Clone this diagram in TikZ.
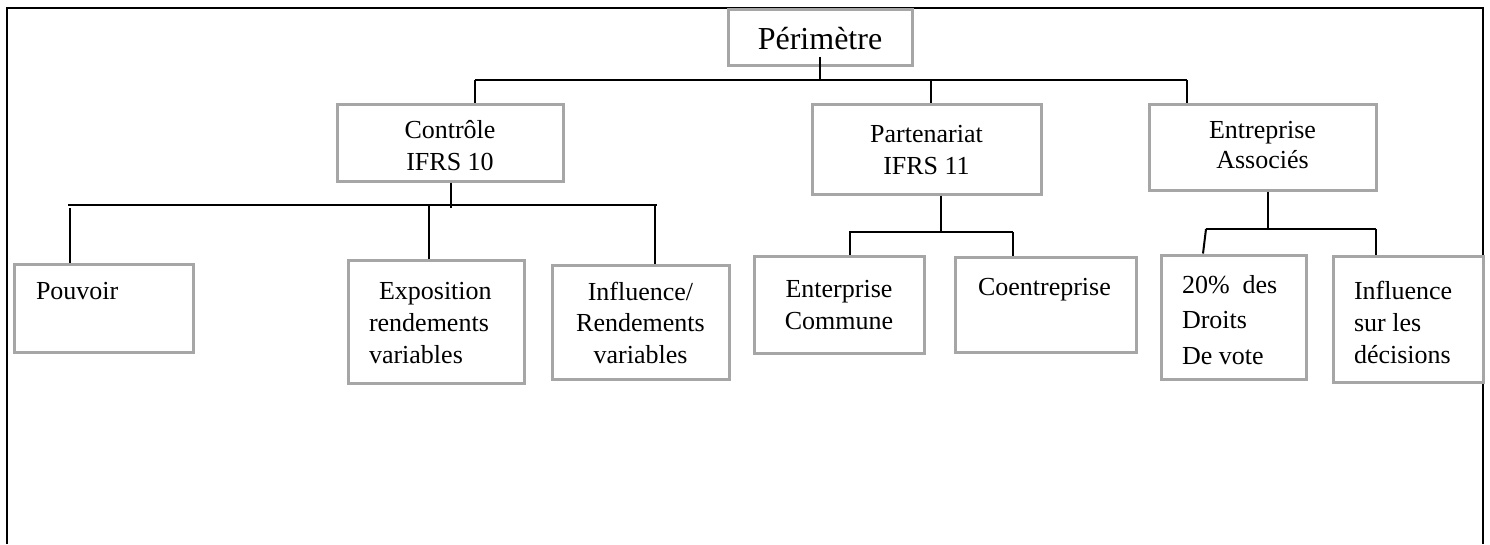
\documentclass[tikz,border=0pt]{standalone}
\usepackage{fontspec}
\setmainfont{Liberation Serif}
\definecolor{boxgray}{RGB}{166,166,166}
\newcommand{\ctext}[3]{\parbox[t]{260pt}{\centering\fontsize{#1}{#2}\selectfont #3}}
\newcommand{\ltext}[2]{\parbox[t]{200pt}{\raggedright\fontsize{26}{#1}\selectfont #2}}
\begin{document}
\begin{tikzpicture}[x=1pt,y=-1pt,
  box/.style={draw=boxgray, fill=white, line width=3pt, inner sep=0pt, rectangle},
  txt/.style={inner sep=0pt, outer sep=0pt},
  conn/.style={draw=black, line width=2pt},
  frame/.style={draw=black, line width=2.2pt}]
\useasboundingbox (0,0) rectangle (1490,544);
% outer frame (open at the bottom)
\coordinate (fbl) at (7,544);
\coordinate (ftl) at (7,8);
\coordinate (ftr) at (1483,8);
\coordinate (fbr) at (1483,544);
\draw[frame] (fbl) -- (ftl) -- (ftr) -- (fbr);
% boxes
\node[box, minimum width=184pt, minimum height=56pt] (per) at (820,37) {};
\node[box, minimum width=226pt, minimum height=77pt] (ctl) at (450,142.5) {};
\node[box, minimum width=229pt, minimum height=90pt] (par) at (926.5,149) {};
\node[box, minimum width=227pt, minimum height=86pt] (ent) at (1262.5,147) {};
\node[box, minimum width=179pt, minimum height=88pt] (pou) at (103.5,308) {};
\node[box, minimum width=176pt, minimum height=123pt] (exp) at (436,321.5) {};
\node[box, minimum width=177pt, minimum height=114pt] (inf) at (640.5,322) {};
\node[box, minimum width=170pt, minimum height=97pt] (com) at (839,304.5) {};
\node[box, minimum width=181pt, minimum height=95pt] (coe) at (1045.5,304.5) {};
\node[box, minimum width=145pt, minimum height=124pt] (vot) at (1233.5,317) {};
\node[box, minimum width=150pt, minimum height=126pt] (dec) at (1408,319) {};
% texts
\node[txt, anchor=base] (tper) at (820,49) {\ctext{32}{38}{Périmètre}};
\node[txt, anchor=base] (tctl) at (450,138) {\ctext{26}{32}{Contrôle\\IFRS 10}};
\node[txt, anchor=base] (tpar) at (926.5,142) {\ctext{26}{32}{Partenariat\\IFRS 11}};
\node[txt, anchor=base] (tent) at (1262.5,138) {\ctext{26}{30}{Entreprise\\Associés}};
\node[txt, anchor=base west] (tpou) at (36,299) {\ltext{32}{Pouvoir}};
\node[txt, anchor=base west] (texp) at (369,299) {\ltext{32}{\hspace*{10pt}Exposition\\rendements\\variables}};
\node[txt, anchor=base] (tinf) at (640.5,300) {\ctext{26}{31.5}{Influence/\\Rendements\\variables}};
\node[txt, anchor=base] (tcom) at (839,297) {\ctext{26}{32}{Enterprise\\Commune}};
\node[txt, anchor=base west] (tcoe) at (978,295) {\ltext{32}{Coentreprise}};
\node[txt, anchor=base west] (tvot) at (1182,293) {\ltext{35.5}{20\%\ \ des\\Droits\\De vote}};
\node[txt, anchor=base west] (tdec) at (1354,299) {\ltext{32}{Influence\\sur les\\décisions}};
% level 1 connectors
\coordinate (j0) at (820,80);
\coordinate (b0l) at (475,80);
\coordinate (b0p) at (931,80);
\coordinate (b0r) at (1187,80);
\draw[conn] ([yshift=10pt]per.south) -- (j0);
\draw[conn] (b0l) -- (b0r);
\draw[conn] (b0l) -- (b0l |- ctl.north);
\draw[conn] (b0p) -- (b0p |- par.north);
\draw[conn] (b0r) -- (b0r |- ent.north);
% Contrôle children
\coordinate (j1) at (451,208);
\coordinate (b1l) at (68,205);
\coordinate (b1r) at (657,205);
\coordinate (d1a) at (70,208);
\coordinate (d1b) at (429,205);
\coordinate (d1c) at (655,205);
\draw[conn] (j1 |- ctl.south) -- (j1);
\draw[conn] (b1l) -- (b1r);
\draw[conn] (d1a) -- (d1a |- pou.north);
\draw[conn] (d1b) -- (d1b |- exp.north);
\draw[conn] (d1c) -- (d1c |- inf.north);
% Partenariat children
\coordinate (j2) at (941,232);
\coordinate (b2l) at (849,232);
\coordinate (b2r) at (1013,232);
\draw[conn] (j2 |- par.south) -- (j2);
\draw[conn] (b2l) -- (b2r);
\draw[conn] ([xshift=1pt]b2l) -- ([xshift=1pt]b2l |- com.north);
\draw[conn] (b2r) -- (b2r |- coe.north);
% Entreprise children
\coordinate (j3) at (1268,229);
\coordinate (b3l) at (1206,229);
\coordinate (b3r) at (1376,229);
\coordinate (v1) at (1203,0);
\draw[conn] (j3 |- ent.south) -- (j3);
\draw[conn] (b3l) -- (b3r);
\draw[conn] (b3l) -- (v1 |- vot.north);
\draw[conn] (b3r) -- (b3r |- dec.north);
\end{tikzpicture}
\end{document}
